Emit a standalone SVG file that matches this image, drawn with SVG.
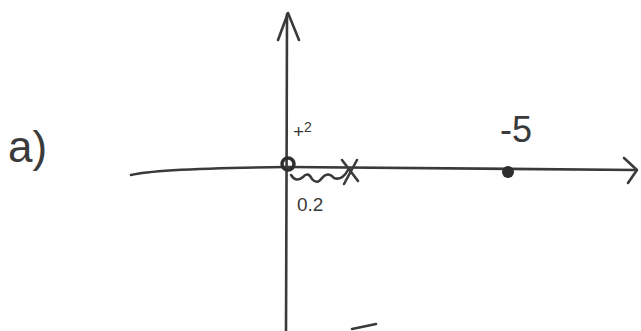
<svg xmlns="http://www.w3.org/2000/svg" width="641" height="331" viewBox="0 0 641 331">
<style>
.ink{fill:none;stroke:#3a3a3a;stroke-width:2.6;stroke-linecap:round;stroke-linejoin:round}
.t{font-family:"Liberation Sans",sans-serif;fill:#3a3a3a}
</style>
<rect width="641" height="331" fill="#fff"/>
<g id="connectors">
<path class="ink" d="M287,14 C287,120 286,220 286,331"/>
<path class="ink" d="M278,40 L288,13 L299,40"/>
<path class="ink" d="M131,175 C150,170 200,168 288,167 L636,170"/>
<path class="ink" d="M624,158 L637,170 L628,183"/>
<path class="ink" d="M291,175 q5,8 12,2 q5,-6 9,2 q5,6 10,-1 q6,-7 12,0 q8,3 14,-8"/>
<path class="ink" d="M352,329 L376,324"/>
</g>
<g id="origin"><circle cx="288" cy="164" r="6" fill="none" stroke="#2e2e2e" stroke-width="3.5"/></g>
<g id="zero"><path class="ink" stroke-width="3" d="M342,160 L358,181 M357,160 L344,184"/></g>
<g id="pole"><circle cx="508" cy="172" r="6" fill="#2e2e2e"/></g>
<text class="t" x="8" y="162" font-size="44">a)</text>
<text class="t" x="293" y="138" font-size="19">+<tspan font-size="14" dy="-6">2</tspan></text>
<text class="t" x="297" y="211" font-size="19">0.2</text>
<text class="t" x="500" y="142" font-size="36">-5</text>
</svg>
